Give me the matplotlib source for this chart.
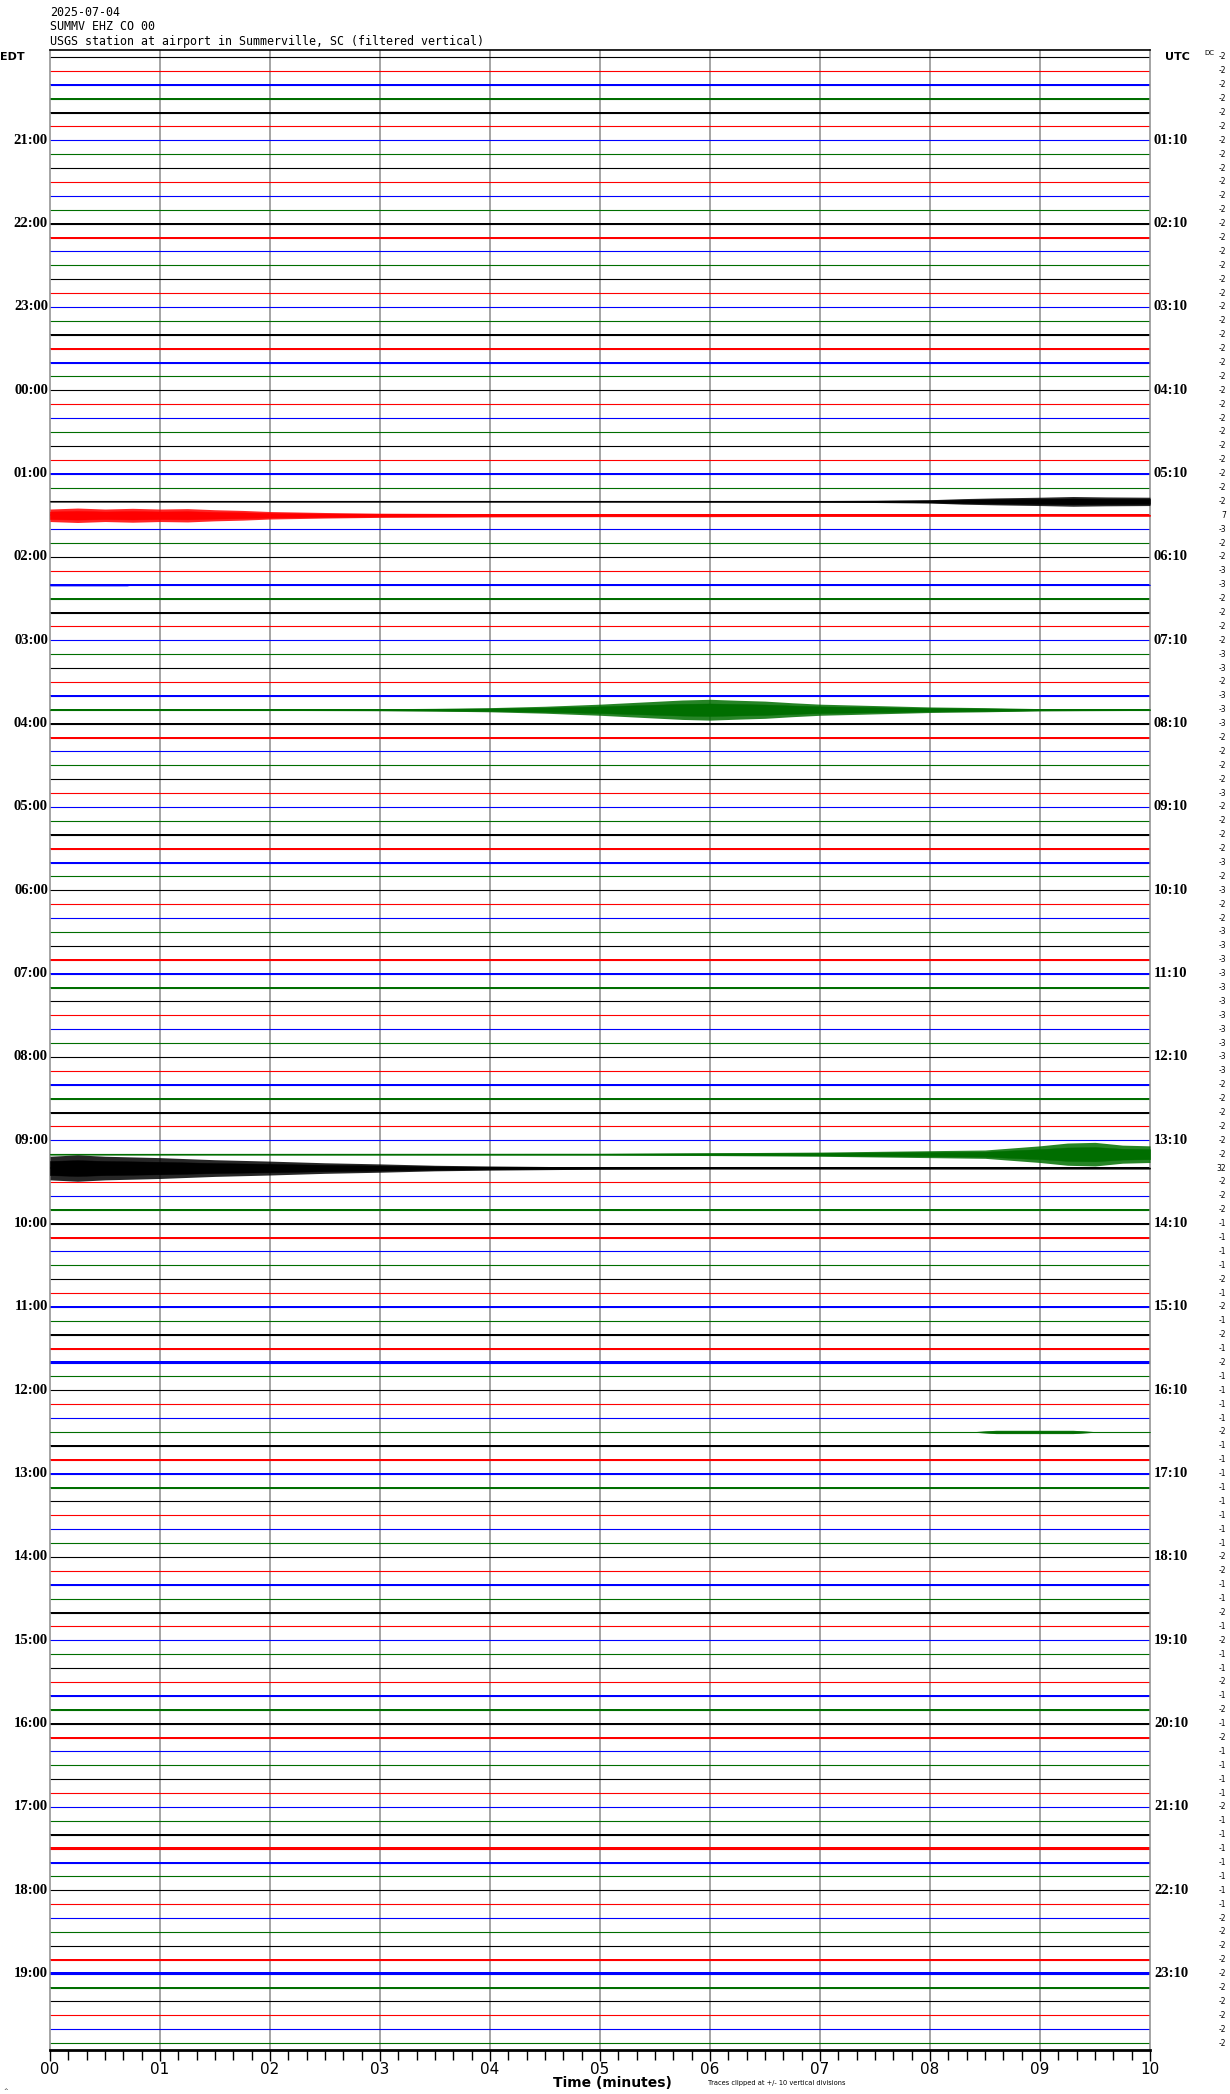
import numpy as np
import matplotlib
matplotlib.use("Agg")
import matplotlib.pyplot as plt
import matplotlib.transforms as mtransforms

# header text
title_lines = ["2025-07-04", "SUMMV EHZ CO 00",
               "USGS station at airport in Summerville, SC (filtered vertical)"]

# one trace every 10 min, 20:00 EDT .. 19:50 EDT
n_rows = 144
trace_colors = ["#000000", "#ff0000", "#0000ff", "#006e00"]

edt_labels = ["21:00", "22:00", "23:00", "00:00", "01:00", "02:00", "03:00", "04:00",
              "05:00", "06:00", "07:00", "08:00", "09:00", "10:00", "11:00", "12:00",
              "13:00", "14:00", "15:00", "16:00", "17:00", "18:00", "19:00"]
utc_labels = ["01:10", "02:10", "03:10", "04:10", "05:10", "06:10", "07:10", "08:10",
              "09:10", "10:10", "11:10", "12:10", "13:10", "14:10", "15:10", "16:10",
              "17:10", "18:10", "19:10", "20:10", "21:10", "22:10", "23:10"]
minute_labels = ["00", "01", "02", "03", "04", "05", "06", "07", "08", "09", "10"]

# DC offset per row (right column)
dc_values = [-2] * 33 + [7, -3, -2] + \
    [-2, -3, -3, -2, -2, -2, -2, -3, -3, -2, -3, -3, -3, -2, -2, -2, -2, -3,
     -2, -2, -2, -2, -3, -2, -3, -2, -2, -3, -3, -3, -3, -3, -3, -3, -3, -3] + \
    [-3, -3, -2, -2, -2, -2, -2, -2, 32, -2, -2, -2, -1, -1, -1, -1, -2, -1,
     -2, -1, -2, -1, -2, -1, -1, -1, -1, -2, -1, -1, -1, -1, -1, -1, -1, -1] + \
    [-2, -2, -1, -1, -2, -1, -2, -1, -1, -2, -1, -2, -1, -2, -1, -1, -1, -1,
     -2, -1, -1, -1, -1, -1, -1, -1, -2, -2, -2, -2, -2, -2, -2, -2, -2, -2]

# background noise half-width per row, in vertical divisions (one block = one hour)
trace_rms = [
    0, 0, 0.04, 0.08, 0.04, 0.04,
    0, 0, 0, 0, 0, 0,
    0.08, 0.04, 0.02, 0, 0, 0,
    0, 0, 0.04, 0.04, 0.02, 0,
    0, 0, 0, 0, 0, 0,
    0.08, 0, 0.03, 0.06, 0, 0.04,
    0, 0, 0.02, 0.08, 0.04, 0,
    0, 0, 0, 0, 0.04, 0.03,
    0.08, 0.04, 0, 0, 0, 0,
    0, 0, 0.04, 0.06, 0.06, 0,
    0.02, 0, 0, 0, 0.02, 0.08,
    0.04, 0.04, 0.02, 0.02, 0, 0,
    0, 0, 0.08, 0.08, 0.06, 0.02,
    0.04, 0.04, 0.06, 0.02, 0, 0.04,
    0.08, 0.04, 0.04, 0, 0.02, 0,
    0.04, 0, 0.06, 0.08, 0.08, 0.04,
    0, 0, 0, 0.02, 0.04, 0.04,
    0.08, 0.04, 0.04, 0, 0, 0,
    0, 0, 0.06, 0, 0.04, 0,
    0.02, 0, 0, 0, 0.04, 0.04,
    0.08, 0.04, 0.02, 0, 0.02, 0,
    0, 0, 0.04, 0.08, 0.04, 0,
    0, 0, 0, 0, 0.02, 0.04,
    0.08, 0.04, 0, 0, 0, 0,
]

# event envelopes: row, minutes, peak half amplitude (divisions)
ev32_t = [0, 5, 6, 7, 7.5, 8, 8.3, 8.6, 9, 9.3, 9.6, 10]
ev32_a = [0.03, 0.04, 0.05, 0.06, 0.08, 0.12, 0.2, 0.25, 0.3, 0.35, 0.32, 0.3]
ev33_t = [0, 0.25, 0.5, 0.75, 1, 1.25, 1.5, 1.75, 2, 2.5, 3, 4, 5, 6, 7, 8, 9, 10]
ev33_a = [0.45, 0.52, 0.45, 0.5, 0.45, 0.48, 0.4, 0.35, 0.27, 0.2, 0.15, 0.12,
          0.1, 0.1, 0.08, 0.08, 0.06, 0.06]
ev38_t = [0, 0.7, 0.75, 10]
ev38_a = [0.08, 0.08, 0.02, 0.02]
ev47_t = [0, 2, 3, 3.5, 4, 4.5, 5, 5.25, 5.5, 5.75, 6, 6.25, 6.5, 6.75, 7, 7.5,
          8, 8.5, 9, 10]
ev47_a = [0.03, 0.05, 0.07, 0.1, 0.15, 0.25, 0.4, 0.5, 0.6, 0.7, 0.75, 0.68, 0.62,
          0.5, 0.4, 0.3, 0.2, 0.15, 0.08, 0.05]
ev79_t = [0, 5, 6, 7, 7.5, 8, 8.5, 8.75, 9, 9.25, 9.5, 9.75, 10]
ev79_a = [0.05, 0.06, 0.1, 0.15, 0.2, 0.25, 0.3, 0.45, 0.6, 0.8, 0.85, 0.65, 0.6]
ev80_t = [0, 0.25, 0.5, 0.75, 1, 1.5, 2, 2.5, 3, 3.5, 4, 5, 6, 10]
ev80_a = [0.85, 0.95, 0.85, 0.8, 0.75, 0.6, 0.5, 0.38, 0.3, 0.2, 0.15, 0.08, 0.06, 0.06]
ev99_t = [0, 8.4, 8.6, 9.3, 9.5, 10]
ev99_a = [0.02, 0.02, 0.12, 0.12, 0.02, 0.02]
events = [(32, ev32_t, ev32_a), (33, ev33_t, ev33_a), (38, ev38_t, ev38_a),
          (47, ev47_t, ev47_a), (79, ev79_t, ev79_a), (80, ev80_t, ev80_a),
          (99, ev99_t, ev99_a)]

W, H = 1230, 2094
fig = plt.figure(figsize=(W / 100, H / 100), dpi=100)
ax = fig.add_axes([50 / W, 44 / H, 1100 / W, 2000 / H])
ax.set_xlim(0, 10)
ax.set_ylim(n_rows - 0.5, -0.5)

for m in range(1, 10):
    ax.axvline(m, color="#8c8c8c", lw=1.1, zorder=1)

for i in range(n_rows):
    c = trace_colors[i % 4]
    ax.plot([0, 10], [i, i], color=c, lw=0.8, zorder=2, solid_capstyle="butt")
    if trace_rms[i] > 0:
        ax.fill_between([0, 10], i - trace_rms[i], i + trace_rms[i], color=c, lw=0, zorder=2)

# peaks drawn a bit lighter, the dense core solid
for row, t, a in events:
    t = np.array(t)
    a = np.array(a)
    c = trace_colors[row % 4]
    ax.fill_between(t, row - a, row + a, color=c, alpha=0.85, lw=0, zorder=3)
    ax.fill_between(t, row - 0.6 * a, row + 0.6 * a, color=c, lw=0.3, zorder=3)

for s in ["left", "right"]:
    ax.spines[s].set_color("#8c8c8c")
    ax.spines[s].set_linewidth(1.1)
ax.spines["top"].set_color("black")
ax.spines["top"].set_linewidth(1.2)
ax.spines["bottom"].set_linewidth(2)

narrow = ["Liberation Sans Narrow", "DejaVu Sans"]
ax.set_yticks([])
ax.set_xticks(range(11))
ax.set_xticklabels(minute_labels, family=narrow, fontsize=11)
ax.set_xticks(np.arange(0, 10.01, 1 / 6), minor=True)
ax.tick_params(axis="x", which="both", direction="out", length=7, width=1, color="black", pad=1)
ax.tick_params(axis="x", which="major", length=8)

trans = mtransforms.blended_transform_factory(fig.transFigure, ax.transData)

for k, lab in enumerate(edt_labels):
    ax.text(48 / W, 6 * (k + 1), lab, transform=trans, ha="right", va="center",
            family="Liberation Serif", weight="bold", fontsize=10.5)
for k, lab in enumerate(utc_labels):
    ax.text(1154 / W, 6 * (k + 1), lab, transform=trans, ha="left", va="center",
            family="Liberation Serif", weight="bold", fontsize=10.5)
for i, v in enumerate(dc_values):
    ax.text(1226 / W, i, str(v), transform=trans, ha="right", va="center",
            family="DejaVu Sans", fontsize=5.5)

ax.text(0 / W, 0, "EDT", transform=trans, ha="left", va="center",
        family=narrow, weight="bold", fontsize=8)
ax.text(1165 / W, 0, "UTC", transform=trans, ha="left", va="center",
        family=narrow, weight="bold", fontsize=8)
ax.text(1204 / W, -0.3, "DC", transform=trans, ha="left", va="center",
        family="DejaVu Sans", fontsize=5)

for k, line in enumerate(title_lines):
    fig.text(50 / W, 1 - (12 + 15 * k) / H, line, ha="left", va="center",
             family="DejaVu Sans Mono", fontsize=8.4)

fig.text(612 / W, 1 - 2083 / H, "Time (minutes)", ha="center", va="center",
         family=narrow, weight="bold", fontsize=10)
fig.text(708 / W, 1 - 2083 / H, "Traces clipped at +/- 10 vertical divisions",
         ha="left", va="center", family="DejaVu Sans", fontsize=4.8)
fig.text(3 / W, 1 - 2090 / H, "^", ha="left", va="center", family="DejaVu Sans", fontsize=4)

fig.savefig("out.png", dpi=100)
